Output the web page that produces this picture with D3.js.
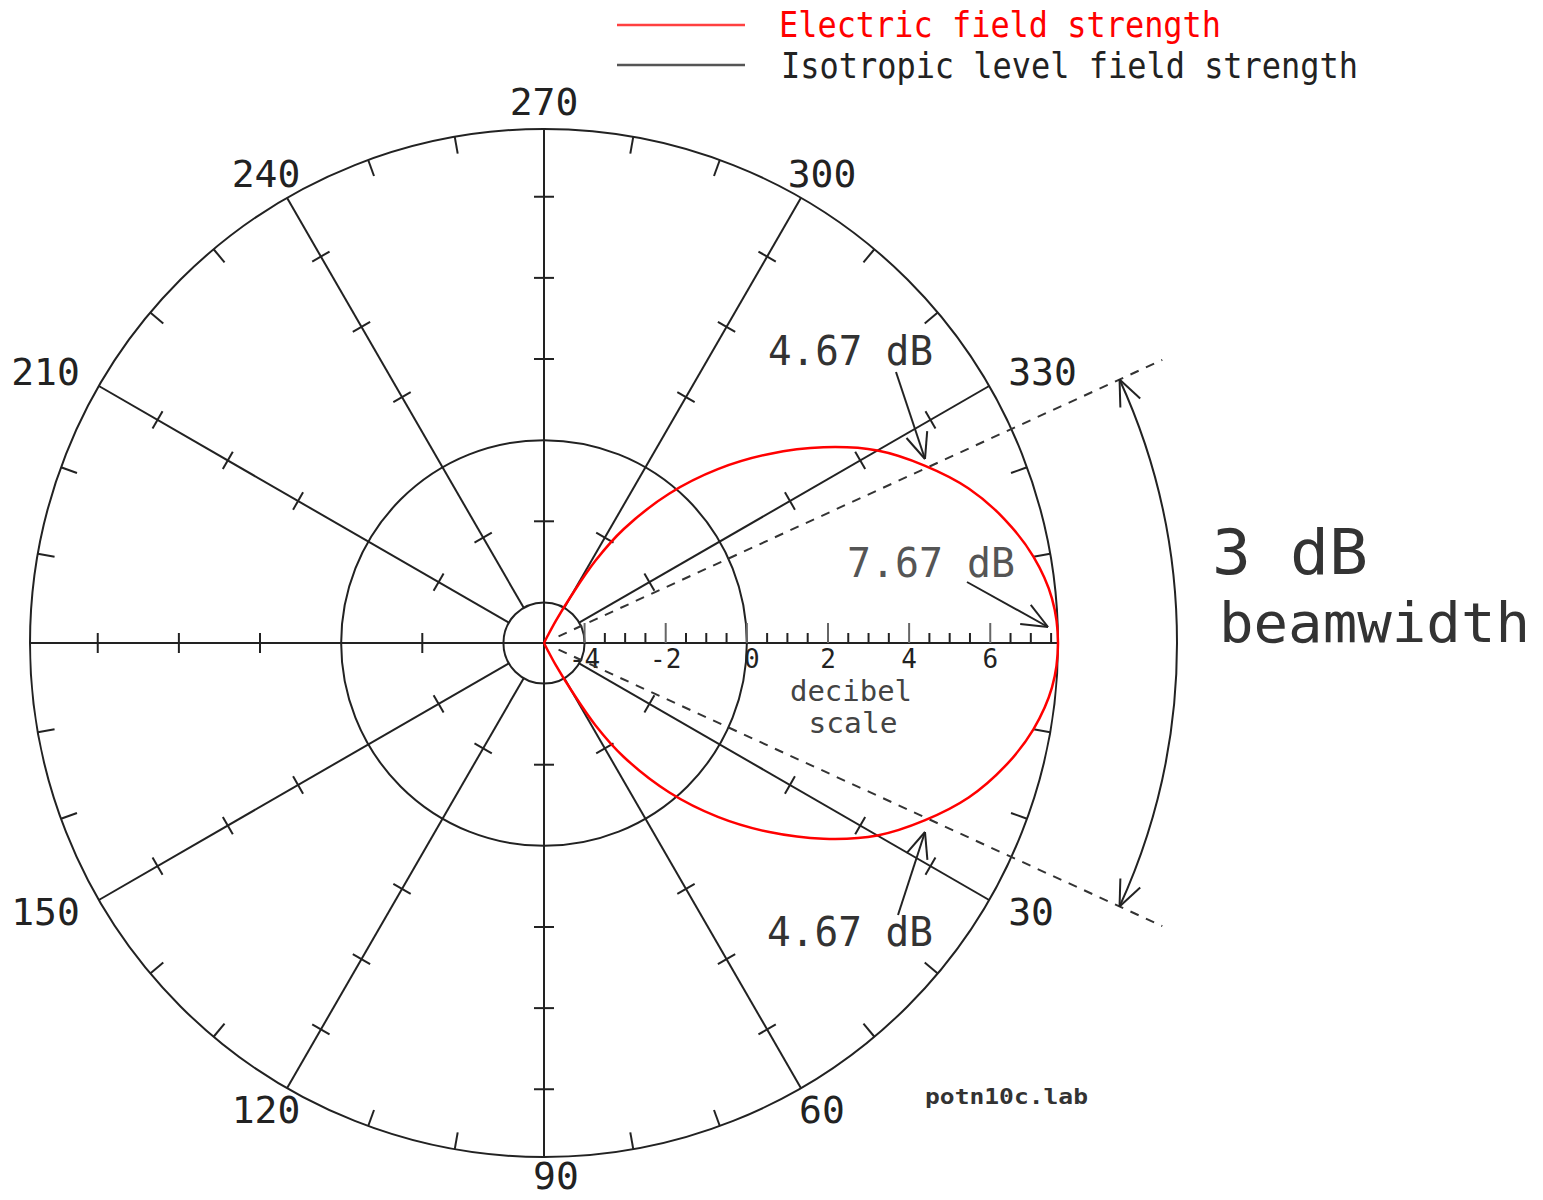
<!DOCTYPE html>
<html>
<head>
<meta charset="utf-8">
<script src="https://cdn.jsdelivr.net/npm/d3@7"></script>
<style>
  body { margin: 0; background: #fff; }
  text { font-family: "DejaVu Sans Mono", monospace; }
</style>
</head>
<body>
<div id="chart"></div>
<script>
// Radiation pattern: angle in degrees (clockwise from 0) and field strength in dB
var patternAngles = [-64, -63, -62, -60, -58, -55, -50, -45, -40, -35, -30, -25, -20, -15, -10, -5,
                     0, 5, 10, 15, 20, 25, 30, 35, 40, 45, 50, 55, 58, 60, 62, 63, 64];
var patternDb = [-5.0, -4.80, -4.38, -3.64, -2.61, -1.57, -0.19, 1.06, 2.25, 3.41, 4.49, 5.35, 6.14, 6.76, 7.25, 7.57,
                 7.67, 7.57, 7.25, 6.76, 6.14, 5.35, 4.49, 3.41, 2.25, 1.06, -0.19, -1.57, -2.61, -3.64, -4.38, -4.80, -5.0];

// Grid
var spokeAngles = [0, 30, 60, 90, 120, 150, 180, 210, 240, 270, 300, 330];
var angleLabels = ["", "30", "60", "90", "120", "150", "", "210", "240", "270", "300", "330"];
var spokeTickDb = [-2, 2, 4, 6];
var circleDb = [-4, 0, 7.67];          // -4 dB ring, isotropic level, rim
var scaleLabelDb = [-4, -2, 0, 2, 4, 6];

// Beamwidth annotation
var peakDb = 7.67;
var edgeDb = 4.67;
var beamEdgeAngle = 24.6;

var W = 1543, H = 1200;
var cx = 544, cy = 643;

var svg = d3.select('#chart')
  .append('svg')
  .attr('width', W)
  .attr('height', H);

var r = d3.scaleLinear().domain([-5, peakDb]).range([0, 514]);
var rad = function(a) { return a * Math.PI / 180; };
function polar(a, rr) { return [cx + rr * Math.cos(rad(a)), cy + rr * Math.sin(rad(a))]; }

var ink = '#222';
var grid = svg.append('g').attr('stroke', ink).attr('stroke-width', 2).attr('fill', 'none');

// circles
grid.selectAll('circle')
  .data(circleDb)
  .enter().append('circle')
  .attr('cx', cx).attr('cy', cy)
  .attr('r', d => r(d));

// spokes: the axes cross the centre, the diagonals stop at the -4 dB ring
grid.selectAll('.spoke')
  .data(spokeAngles)
  .enter().append('line')
  .attr('class', 'spoke')
  .attr('x1', d => polar(d, d % 90 === 0 ? 0 : r(-4))[0])
  .attr('y1', d => polar(d, d % 90 === 0 ? 0 : r(-4))[1])
  .attr('x2', d => polar(d, r(peakDb))[0])
  .attr('y2', d => polar(d, r(peakDb))[1]);

// cross ticks on spokes (not on the 0 deg decibel axis)
spokeAngles.filter(a => a !== 0).forEach(function(a) {
  spokeTickDb.forEach(function(db) {
    var p = polar(a, r(db));
    var px = -Math.sin(rad(a)) * 10, py = Math.cos(rad(a)) * 10;
    grid.append('line')
      .attr('x1', p[0] - px).attr('y1', p[1] - py)
      .attr('x2', p[0] + px).attr('y2', p[1] + py);
  });
});

// rim ticks every 10 deg
d3.range(0, 360, 10).filter(a => a % 30 !== 0).forEach(function(a) {
  var p1 = polar(a, r(peakDb)), p2 = polar(a, r(peakDb) - 17);
  grid.append('line')
    .attr('x1', p1[0]).attr('y1', p1[1])
    .attr('x2', p2[0]).attr('y2', p2[1]);
});

// decibel scale along the 0 deg axis
d3.range(-4, 7.51, 0.5).forEach(function(db) {
  var x = cx + r(db);
  var major = db % 2 === 0;
  grid.append('line')
    .attr('x1', x).attr('y1', cy)
    .attr('x2', x).attr('y2', cy - (major ? 20 : 10))
    .attr('stroke', major ? '#666' : ink);
});

svg.selectAll('.dblab')
  .data(scaleLabelDb)
  .enter().append('text')
  .attr('class', 'dblab')
  .attr('x', d => cx + r(d) + (d === 0 ? 5 : 0))
  .attr('y', cy + 25)
  .attr('text-anchor', 'middle')
  .attr('font-size', 26)
  .attr('fill', ink)
  .text(d => d);

svg.append('text').attr('x', 851).attr('y', 701).attr('text-anchor', 'middle')
  .attr('font-size', 28).attr('fill', '#444').attr('textLength', 122).attr('lengthAdjust', 'spacingAndGlyphs')
  .text('decibel');
svg.append('text').attr('x', 853).attr('y', 733).attr('text-anchor', 'middle')
  .attr('font-size', 28).attr('fill', '#444').attr('textLength', 89).attr('lengthAdjust', 'spacingAndGlyphs')
  .text('scale');

// angle labels
spokeAngles.forEach(function(a, i) {
  if (!angleLabels[i]) return;
  var c = Math.cos(rad(a)), s = Math.sin(rad(a));
  var p = polar(a, r(peakDb) + 22);
  var anchor = c > 0.6 ? 'start' : (c < -0.6 ? 'end' : 'middle');
  svg.append('text')
    .attr('x', p[0] + (anchor === 'middle' ? 20 * c : 0) + (a === 90 ? 12 : 0))
    .attr('y', Math.min(p[1] + 12 + 4 * s, H - 11))
    .attr('text-anchor', anchor)
    .attr('font-size', 38)
    .attr('fill', ink)
    .text(angleLabels[i]);
});

// beam edge dashed lines
[-beamEdgeAngle, beamEdgeAngle].forEach(function(a) {
  var p1 = polar(a, 16), p2 = polar(a, 680);
  svg.append('line')
    .attr('x1', p1[0]).attr('y1', p1[1]).attr('x2', p2[0]).attr('y2', p2[1])
    .attr('stroke', '#333').attr('stroke-width', 2).attr('stroke-dasharray', '9,8');
});

// pattern
var line = d3.lineRadial()
  .angle(d => rad(d.a + 90))
  .radius(d => r(d.db))
  .curve(d3.curveCatmullRom);

var pattern = patternAngles.map((a, i) => ({ a: a, db: patternDb[i] }));

svg.append('path')
  .datum(pattern)
  .attr('transform', 'translate(' + cx + ',' + cy + ')')
  .attr('d', line)
  .attr('fill', 'none')
  .attr('stroke', '#ff0000')
  .attr('stroke-width', 2.5);

// arrows
var ann = svg.append('g').attr('stroke', '#222').attr('stroke-width', 2).attr('fill', 'none');
function arrowHead(x, y, dir) {
  [-1, 1].forEach(function(s) {
    var b = dir + Math.PI + s * 0.4;
    ann.append('line').attr('x1', x).attr('y1', y)
      .attr('x2', x + 28 * Math.cos(b)).attr('y2', y + 28 * Math.sin(b));
  });
}
function arrow(x1, y1, x2, y2) {
  ann.append('line').attr('x1', x1).attr('y1', y1).attr('x2', x2).attr('y2', y2);
  arrowHead(x2, y2, Math.atan2(y2 - y1, x2 - x1));
}
arrow(896, 372, 925, 459);
arrow(898, 915, 925, 832);
arrow(967, 582, 1048, 627);

// beamwidth arc
var R = 633;
var arcPath = d3.path();
arcPath.arc(cx, cy, R, rad(-beamEdgeAngle), rad(beamEdgeAngle));
ann.append('path').attr('d', arcPath.toString());
[-beamEdgeAngle, beamEdgeAngle].forEach(function(a) {
  var p = polar(a, R);
  var s = a < 0 ? -1 : 1;
  // tangent direction pointing towards the arc end
  arrowHead(p[0], p[1], Math.atan2(s * Math.cos(rad(a)), -s * Math.sin(rad(a))));
});

// annotation text
svg.append('text').attr('x', 768).attr('y', 365).attr('font-size', 40).attr('fill', '#333')
  .attr('textLength', 165).attr('lengthAdjust', 'spacingAndGlyphs').text(edgeDb.toFixed(2) + ' dB');
svg.append('text').attr('x', 767).attr('y', 946).attr('font-size', 40).attr('fill', '#333')
  .attr('textLength', 166).attr('lengthAdjust', 'spacingAndGlyphs').text(edgeDb.toFixed(2) + ' dB');
svg.append('text').attr('x', 847).attr('y', 577).attr('font-size', 40).attr('fill', '#555')
  .attr('textLength', 168).attr('lengthAdjust', 'spacingAndGlyphs').text(peakDb.toFixed(2) + ' dB');
svg.append('text').attr('x', 1212).attr('y', 574).attr('font-size', 62).attr('fill', '#333')
  .attr('textLength', 156).attr('lengthAdjust', 'spacingAndGlyphs').text('3 dB');
svg.append('text').attr('x', 1219).attr('y', 642).attr('font-size', 56).attr('fill', '#333')
  .attr('textLength', 311).attr('lengthAdjust', 'spacingAndGlyphs').text('beamwidth');
svg.append('text').attr('x', 925).attr('y', 1104).attr('font-size', 22).attr('font-weight', 'bold').attr('fill', '#333')
  .attr('textLength', 163).attr('lengthAdjust', 'spacingAndGlyphs').text('potn10c.lab');

// legend
svg.append('line').attr('x1', 617).attr('y1', 25).attr('x2', 745).attr('y2', 25)
  .attr('stroke', '#ff4040').attr('stroke-width', 2.5);
svg.append('line').attr('x1', 617).attr('y1', 65).attr('x2', 745).attr('y2', 65)
  .attr('stroke', '#555').attr('stroke-width', 2.5);
svg.append('text').attr('x', 779).attr('y', 37).attr('font-size', 36).attr('fill', '#ff0000')
  .attr('textLength', 442).attr('lengthAdjust', 'spacingAndGlyphs').text('Electric field strength');
svg.append('text').attr('x', 781).attr('y', 78).attr('font-size', 36).attr('fill', '#222')
  .attr('textLength', 577).attr('lengthAdjust', 'spacingAndGlyphs').text('Isotropic level field strength');
</script>
</body>
</html>
